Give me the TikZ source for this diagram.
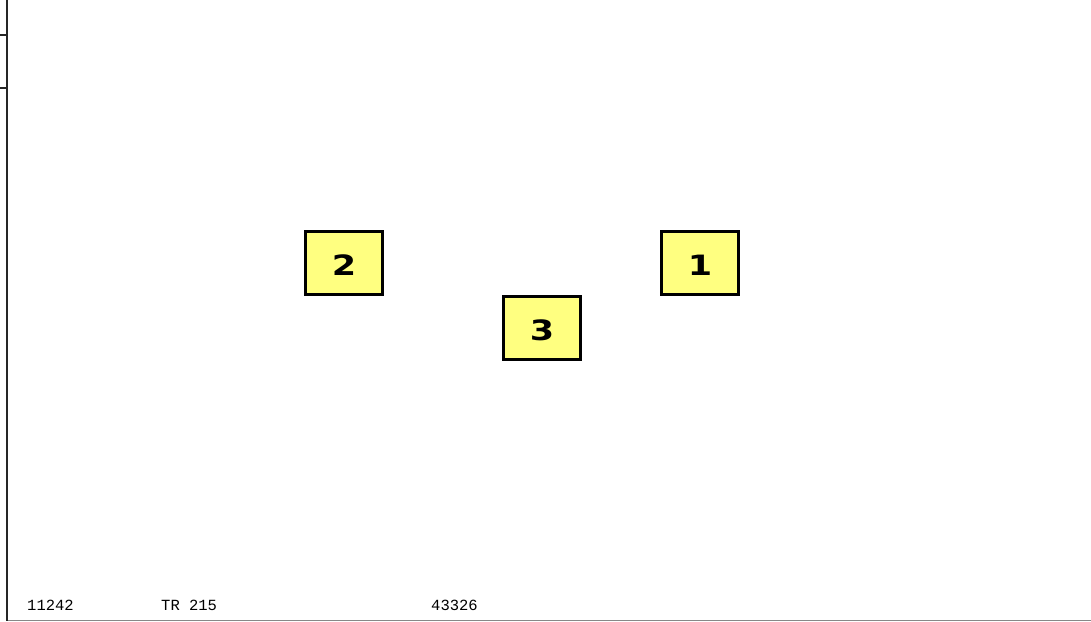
\documentclass[tikz,border=0pt]{standalone}
\usepackage{fontspec}
\usepackage{graphicx}
\newfontfamily\boxfont{DejaVu Sans}[BoldFont={DejaVu Sans Bold}]
\newfontfamily\footfont{Liberation Mono}
\definecolor{boxyellow}{RGB}{255,255,128}
\definecolor{rulegray}{RGB}{136,136,136}
\tikzset{
  numbox/.style={draw=black, line width=2.6pt, fill=boxyellow,
    minimum width=77.4pt, minimum height=63.4pt, inner sep=0pt,
    font=\boxfont\bfseries\fontsize{28}{28}\selectfont},
  foottext/.style={anchor=base west, inner sep=0pt,
    font=\footfont\fontsize{15.5}{15.5}\selectfont},
}
\newcommand{\boxnum}[1]{\raisebox{-12pt}[0pt][0pt]{\scalebox{1.25}[1]{#1}}\hspace{3pt}}
\begin{document}
\begin{tikzpicture}[x=1pt,y=-1pt]
  \useasboundingbox[fill=white] (0,0) rectangle (1091,621);
  % frame lines
  \coordinate (ltop) at (7,0);
  \coordinate (lbot) at (7,621);
  \coordinate (t1a) at (0,34.5);
  \coordinate (t1b) at (7,34.5);
  \coordinate (t2a) at (0,88);
  \coordinate (t2b) at (7,88);
  \coordinate (ba) at (8,620);
  \coordinate (bb) at (1091,620);
  \draw[line width=1pt, rulegray] (ba) -- (bb);
  \draw[line width=2pt, black!85] (ltop) -- (lbot);
  \draw[line width=2pt, black!85] (t1a) -- (t1b);
  \draw[line width=2pt, black!85] (t2a) -- (t2b);
  % boxes
  \node[numbox] (n2) at (344,263) {\boxnum{2}};
  \node[numbox] (n1) at (700,263) {\boxnum{1}};
  \node[numbox] (n3) at (542,328) {\boxnum{3}};
  % footer texts
  \node[foottext] (f1) at (27,610) {11242};
  \node[foottext] (f2) at (161,610) {TR 215};
  \node[foottext] (f3) at (431,610) {43326};
\end{tikzpicture}
\end{document}
